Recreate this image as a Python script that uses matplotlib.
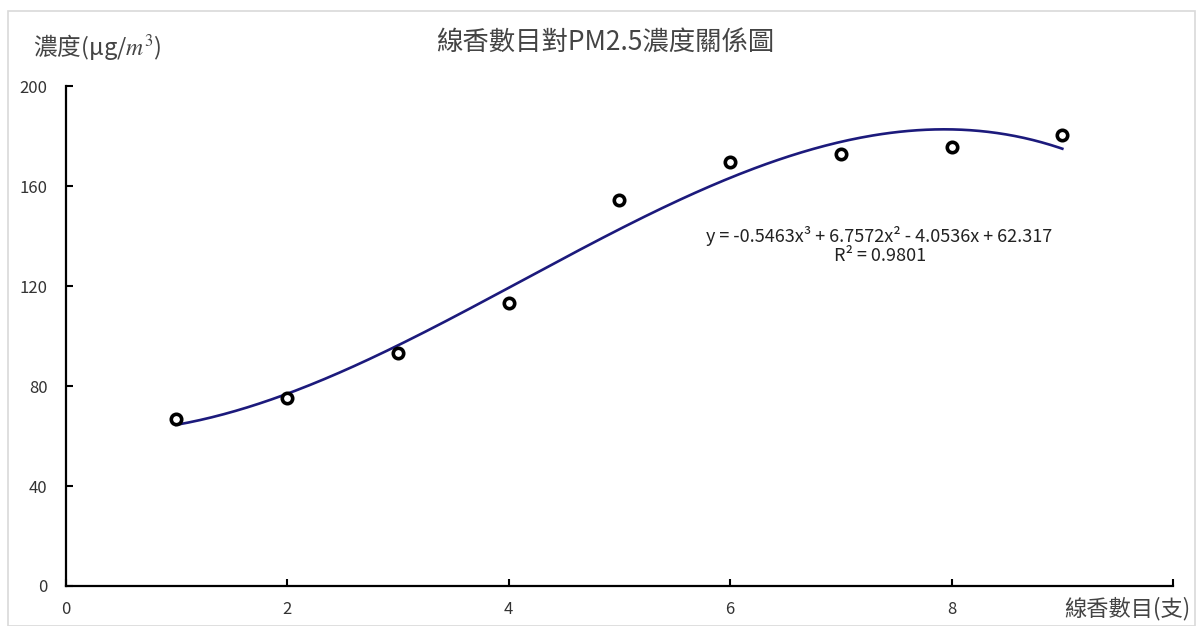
import numpy as np
import matplotlib
matplotlib.use('Agg')
import matplotlib.pyplot as plt
from matplotlib.patches import Rectangle

plt.rcParams['font.family'] = ['Noto Sans CJK TC', 'DejaVu Sans']
plt.rcParams['mathtext.fontset'] = 'stix'

# incense sticks vs. measured PM2.5
sticks = [1, 2, 3, 4, 5, 6, 7, 8, 9]
pm25 = [66.8, 75.2, 93.2, 113.2, 154.4, 169.6, 172.8, 175.6, 180.4]

# cubic trendline, highest power first
coefs = [-0.5463, 6.7572, -4.0536, 62.317]
r2 = 0.9801

xticks = [0, 2, 4, 6, 8, 10]
xticklabels = ['0', '2', '4', '6', '8', '']
yticks = [0, 40, 80, 120, 160, 200]

title = '線香數目對PM2.5濃度關係圖'
ylabel = '濃度(μg/$m^3$)'
xlabel = '線香數目(支)'

fig = plt.figure(figsize=(11.98, 6.26), dpi=100)
ax = fig.add_axes([0.0547, 0.0639, 0.9245, 0.7987])

# outer chart frame
fig.patches.append(Rectangle((8/1198, 0.0), 1187/1198, 1 - 10/626 - 0.001,
                             transform=fig.transFigure, fill=False,
                             edgecolor='#d9d9d9', lw=1.2))

xs = np.linspace(sticks[0], sticks[-1], 300)
ax.plot(xs, np.polyval(coefs, xs), color='#1c1a7c', lw=1.9, zorder=2)
ax.plot(sticks, pm25, 'o', ms=7.5, mfc='white', mec='black', mew=2.6, zorder=3)

ax.set_xlim(0, 10)
ax.set_ylim(0, 200)
ax.set_xticks(xticks)
ax.set_xticklabels(xticklabels)
ax.set_yticks(yticks)
ax.tick_params(direction='in', length=5, width=1.5, labelsize=12,
               labelcolor='#333333')
ax.tick_params(axis='y', pad=13)
ax.tick_params(axis='x', pad=11)
for s in ('top', 'right'):
    ax.spines[s].set_visible(False)
for s in ('left', 'bottom'):
    ax.spines[s].set_linewidth(1.6)

eq = 'y = {:.4f}x³ + {:.4f}x² - {:.4f}x + {:.3f}\nR² = {:.4f}'.format(
    coefs[0], coefs[1], -coefs[2], coefs[3], r2)
ax.text(7.35, 144, eq, ha='center', va='top', fontsize=13,
        color='#222222', linespacing=1.1)

fig.text(605/1198, 1 - 42/626, title, ha='center', va='center',
         fontsize=19, color='#444444')
fig.text(33/1198, 1 - 47/626, ylabel, ha='left', va='center',
         fontsize=17, color='#444444')
fig.text(1190/1198, 1 - 609/626, xlabel, ha='right', va='center',
         fontsize=16, color='#444444')

fig.savefig('out.png', dpi=100, facecolor='white')
